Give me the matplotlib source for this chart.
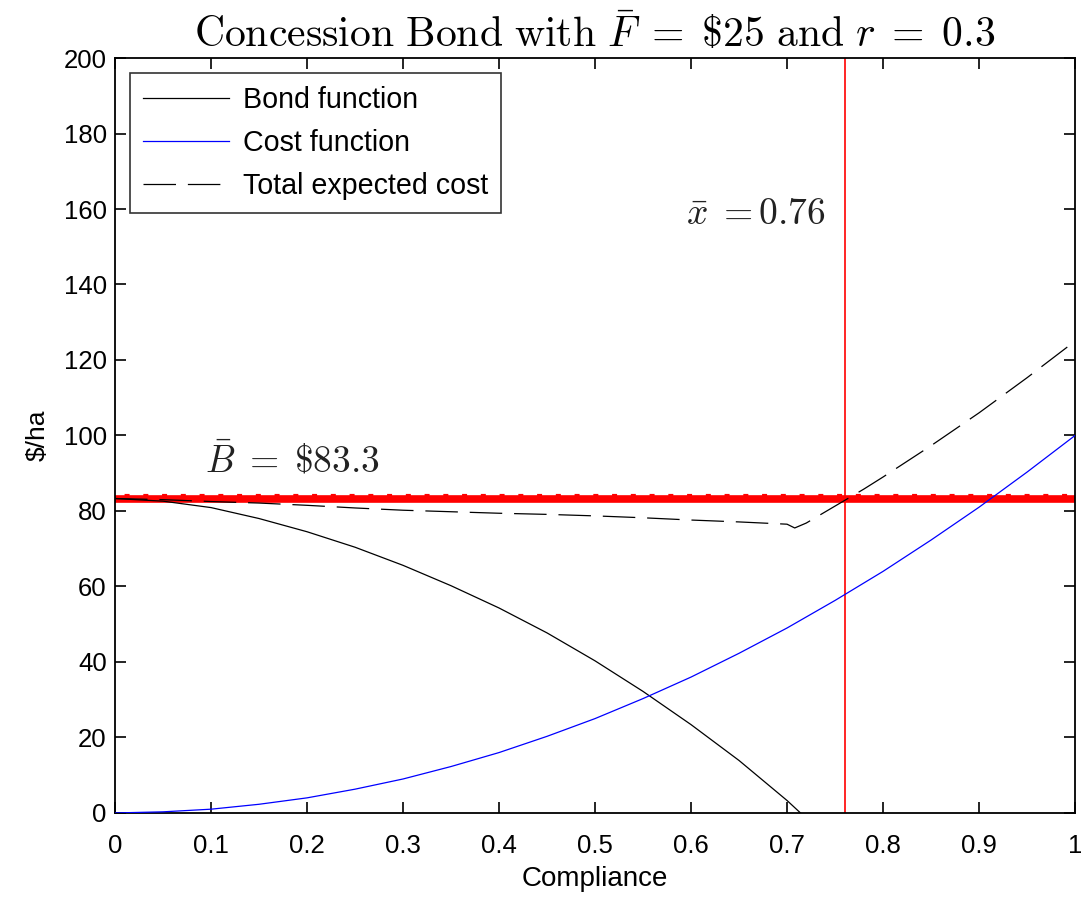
import numpy as np
import matplotlib
matplotlib.use("Agg")
import matplotlib.pyplot as plt
import matplotlib.transforms as mtransforms

plt.rcParams['font.family'] = ['Liberation Sans', 'DejaVu Sans']
plt.rcParams['mathtext.fontset'] = 'cm'

# ---- data ----
compliance = [0.0, 0.05, 0.10, 0.15, 0.20, 0.25, 0.30, 0.35, 0.40, 0.45, 0.50,
              0.55, 0.60, 0.65, 0.70, 0.714]
bond = [83.3, 82.6, 80.9, 78.0, 74.5, 70.4, 65.6, 60.2, 54.3, 47.7, 40.3,
        32.2, 23.4, 13.9, 3.3, 0.0]

cost_x = [0.0, 0.05, 0.10, 0.15, 0.20, 0.25, 0.30, 0.35, 0.40, 0.45, 0.50,
          0.55, 0.60, 0.65, 0.70, 0.75, 0.80, 0.85, 0.90, 0.95, 1.0]
cost = [0.0, 0.3, 1.0, 2.3, 4.0, 6.3, 9.0, 12.3, 16.0, 20.3, 25.0,
        30.3, 36.0, 42.3, 49.0, 56.3, 64.0, 72.3, 81.0, 90.3, 100.0]

total_x = [0.0, 0.05, 0.10, 0.15, 0.20, 0.25, 0.30, 0.35, 0.40, 0.45, 0.50,
           0.55, 0.60, 0.65, 0.70, 0.708, 0.72, 0.74, 0.76, 0.78, 0.80,
           0.85, 0.90, 0.95, 1.0]
total = [83.3, 83.0, 82.5, 82.1, 81.5, 80.8, 80.2, 79.8, 79.4, 79.1, 78.7,
         78.2, 77.6, 77.1, 76.5, 75.5, 76.8, 79.8, 82.8, 85.8, 89.0,
         97.3, 106.0, 115.3, 125.0]

B_bar = 83.3
x_bar = 0.76
x_ticks = [0, 0.1, 0.2, 0.3, 0.4, 0.5, 0.6, 0.7, 0.8, 0.9, 1]
x_tick_labels = ['0', '0.1', '0.2', '0.3', '0.4', '0.5', '0.6', '0.7', '0.8', '0.9', '1']
y_ticks = [0, 20, 40, 60, 80, 100, 120, 140, 160, 180, 200]

fig = plt.figure(figsize=(10.81, 8.98), dpi=100)
ax = fig.add_axes([0.1064, 0.0947, 0.9945 - 0.1064, 0.9354 - 0.0947])

# threshold bond line (thick red with dotted crest)
ax.plot([0, 1], [B_bar, B_bar], color='red', lw=5.5, solid_capstyle='butt', zorder=2)
up = mtransforms.offset_copy(ax.transData, fig=fig, x=0, y=3, units='dots')
ax.plot([0, 1], [B_bar, B_bar], color='red', lw=3.0, transform=up,
        linestyle=(2.2, (1.2, 3.3)), zorder=2)

ax.plot(compliance, bond, color='black', lw=0.9, label='Bond function', zorder=3)
ax.plot(cost_x, cost, color='blue', lw=0.9, label='Cost function', zorder=3)
ax.plot(total_x, total, color='black', lw=0.9, label='Total expected cost',
        dashes=(26, 9.5), zorder=3)
ax.axvline(x_bar, color='red', lw=1.2, zorder=2)

ax.text(0.094, 90.5, r'$\bar{B}\;=\;\$83.3$', fontsize=27, color='#222222')
ax.text(0.595, 156.0, r'$\bar{x}\;{=}0.76$', fontsize=27, color='#222222')

ax.set_xlim(0, 1)
ax.set_ylim(0, 200)
ax.set_xticks(x_ticks)
ax.set_xticklabels(x_tick_labels)
ax.set_yticks(y_ticks)
ax.tick_params(direction='in', length=8, width=1.2, top=True, right=True,
               labelsize=18.5)
ax.tick_params(axis='x', pad=15)
ax.tick_params(axis='y', pad=6)
for s in ax.spines.values():
    s.set_linewidth(1.3)

ax.set_xlabel('Compliance', fontsize=20, labelpad=6)
ax.set_ylabel('$/ha', fontsize=19, labelpad=10)
ax.set_title(r'$\mathrm{Concession\ Bond\ with\ }\bar{F}\;=\;\$25\mathrm{\ and\ }r\;=\;0.3$',
             fontsize=30, pad=8)

leg = ax.legend(loc='upper left', fontsize=20.6, frameon=True, fancybox=False,
                edgecolor='black', handlelength=3.0, handletextpad=0.5,
                borderpad=0.45, labelspacing=0.52, borderaxespad=0.53)
leg.get_frame().set_linewidth(1.2)

fig.savefig('out.png', dpi=100)
